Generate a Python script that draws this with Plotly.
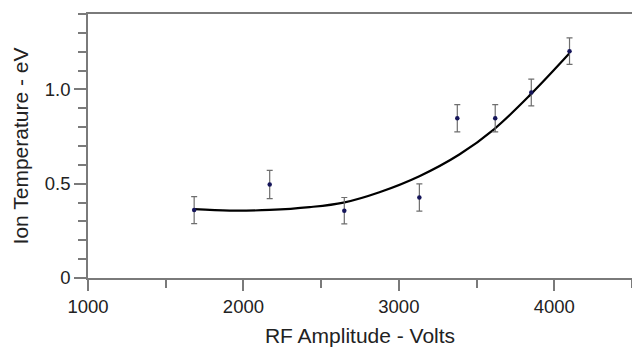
import plotly.graph_objects as go

# Measured data points
rf_volts = [1683, 2169, 2649, 3132, 3376, 3620, 3852, 4098]
ion_temp = [0.36, 0.496, 0.357, 0.427, 0.847, 0.847, 0.984, 1.203]
temp_err = [0.072, 0.075, 0.070, 0.072, 0.072, 0.072, 0.071, 0.070]

# Fit curve
fit_volts = [1683, 1912, 2169, 2426, 2644, 2875, 3132, 3389, 3614, 3850, 4096]
fit_temp = [0.365, 0.357, 0.361, 0.376, 0.40, 0.455, 0.54, 0.655, 0.79, 0.975, 1.19]

x_ticks = [1000, 2000, 3000, 4000]
y_ticks = [0, 0.5, 1.0]
y_tick_text = ["0", "0.5", "1.0"]

font_family = "Liberation Sans, Arial, Helvetica, sans-serif"
axis_color = "#7a7a7a"
text_color = "#222"

fig = go.Figure()
fig.add_trace(go.Scatter(
    x=fit_volts, y=fit_temp, mode="lines",
    line=dict(color="black", width=2.2, shape="spline", smoothing=1.0),
    hoverinfo="skip", showlegend=False,
))
fig.add_trace(go.Scatter(
    x=rf_volts, y=ion_temp, mode="markers",
    marker=dict(color="#15155a", size=4.5),
    error_y=dict(type="data", array=temp_err, visible=True,
                 color="#6e6e6e", thickness=1.2, width=3),
    showlegend=False,
))

fig.update_layout(
    width=632, height=351,
    margin=dict(l=88, r=0, t=14, b=73),
    paper_bgcolor="white", plot_bgcolor="white",
    font=dict(family=font_family, size=18, color=text_color),
    showlegend=False,
)
fig.update_xaxes(
    range=[1000, 4500], tickvals=x_ticks, ticktext=[str(v) for v in x_ticks],
    showgrid=False, zeroline=False,
    showline=True, linecolor=axis_color, linewidth=1.5, mirror=True,
    ticks="outside", ticklen=11, tickwidth=1.5, tickcolor=axis_color,
    minor=dict(dtick=500, tick0=1000, ticks="outside", ticklen=8,
               tickwidth=1.5, tickcolor=axis_color, showgrid=False),
    tickfont=dict(size=18.5, family=font_family, color=text_color),
    title=dict(text="RF Amplitude - Volts", font=dict(size=21, family=font_family, color=text_color),
               standoff=12),
)
fig.update_yaxes(
    range=[0, 1.4], tickvals=y_ticks, ticktext=y_tick_text,
    showgrid=False, zeroline=False,
    showline=True, linecolor=axis_color, linewidth=1.5,
    ticks="outside", ticklen=12, tickwidth=1.5, tickcolor=axis_color,
    minor=dict(dtick=0.1, tick0=0, ticks="outside", ticklen=8,
               tickwidth=1.5, tickcolor=axis_color, showgrid=False),
    tickfont=dict(size=18.5, family=font_family, color=text_color),
    title=dict(text="Ion Temperature - eV", font=dict(size=21, family=font_family, color=text_color),
               standoff=10),
)

fig.write_html("out.html")
